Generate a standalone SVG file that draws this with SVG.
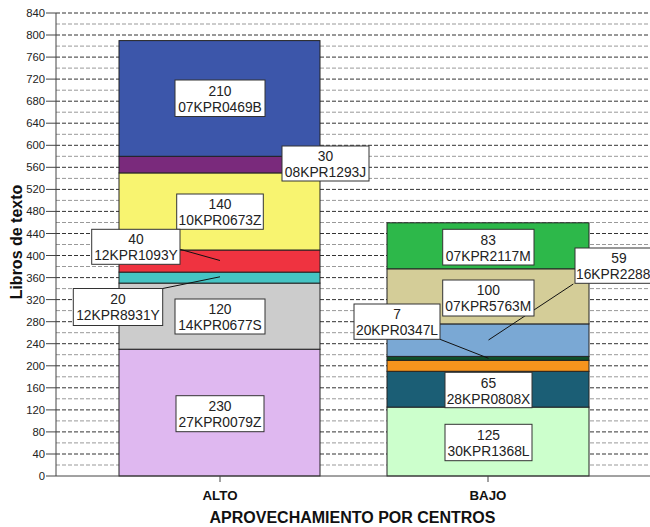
<svg xmlns="http://www.w3.org/2000/svg" width="650" height="527" viewBox="0 0 650 527">
<style>
.maj{stroke:#333;stroke-width:1;stroke-dasharray:4,2}
.min{stroke:#999;stroke-width:1;stroke-dasharray:4,2}
.tick{font-family:"Liberation Sans",Arial,sans-serif;font-size:11.3px;fill:#222;text-anchor:end}
.seg{stroke:#222;stroke-width:1}
.box{fill:#fff;stroke:#333;stroke-width:1}
.lbl{font-family:"Liberation Sans",Arial,sans-serif;font-size:13.8px;fill:#222;text-anchor:middle}
.lead{stroke:#111;stroke-width:1;fill:none}
.cat{font-family:"Liberation Sans",Arial,sans-serif;font-size:13.3px;font-weight:bold;fill:#111;text-anchor:middle}
.ttl{font-family:"Liberation Sans",Arial,sans-serif;font-size:16px;font-weight:bold;fill:#111;text-anchor:middle}
</style>
<rect width="650" height="527" fill="#fff"/>
<g id="grid">
<line class="min" x1="56" x2="650" y1="465.0" y2="465.0"/>
<line class="maj" x1="56" x2="650" y1="454.0" y2="454.0"/>
<line class="min" x1="56" x2="650" y1="442.9" y2="442.9"/>
<line class="maj" x1="56" x2="650" y1="431.9" y2="431.9"/>
<line class="min" x1="56" x2="650" y1="420.9" y2="420.9"/>
<line class="maj" x1="56" x2="650" y1="409.9" y2="409.9"/>
<line class="min" x1="56" x2="650" y1="398.8" y2="398.8"/>
<line class="maj" x1="56" x2="650" y1="387.8" y2="387.8"/>
<line class="min" x1="56" x2="650" y1="376.8" y2="376.8"/>
<line class="maj" x1="56" x2="650" y1="365.8" y2="365.8"/>
<line class="min" x1="56" x2="650" y1="354.7" y2="354.7"/>
<line class="maj" x1="56" x2="650" y1="343.7" y2="343.7"/>
<line class="min" x1="56" x2="650" y1="332.7" y2="332.7"/>
<line class="maj" x1="56" x2="650" y1="321.7" y2="321.7"/>
<line class="min" x1="56" x2="650" y1="310.6" y2="310.6"/>
<line class="maj" x1="56" x2="650" y1="299.6" y2="299.6"/>
<line class="min" x1="56" x2="650" y1="288.6" y2="288.6"/>
<line class="maj" x1="56" x2="650" y1="277.6" y2="277.6"/>
<line class="min" x1="56" x2="650" y1="266.5" y2="266.5"/>
<line class="maj" x1="56" x2="650" y1="255.5" y2="255.5"/>
<line class="min" x1="56" x2="650" y1="244.5" y2="244.5"/>
<line class="maj" x1="56" x2="650" y1="233.5" y2="233.5"/>
<line class="min" x1="56" x2="650" y1="222.5" y2="222.5"/>
<line class="maj" x1="56" x2="650" y1="211.4" y2="211.4"/>
<line class="min" x1="56" x2="650" y1="200.4" y2="200.4"/>
<line class="maj" x1="56" x2="650" y1="189.4" y2="189.4"/>
<line class="min" x1="56" x2="650" y1="178.4" y2="178.4"/>
<line class="maj" x1="56" x2="650" y1="167.3" y2="167.3"/>
<line class="min" x1="56" x2="650" y1="156.3" y2="156.3"/>
<line class="maj" x1="56" x2="650" y1="145.3" y2="145.3"/>
<line class="min" x1="56" x2="650" y1="134.3" y2="134.3"/>
<line class="maj" x1="56" x2="650" y1="123.2" y2="123.2"/>
<line class="min" x1="56" x2="650" y1="112.2" y2="112.2"/>
<line class="maj" x1="56" x2="650" y1="101.2" y2="101.2"/>
<line class="min" x1="56" x2="650" y1="90.2" y2="90.2"/>
<line class="maj" x1="56" x2="650" y1="79.1" y2="79.1"/>
<line class="min" x1="56" x2="650" y1="68.1" y2="68.1"/>
<line class="maj" x1="56" x2="650" y1="57.1" y2="57.1"/>
<line class="min" x1="56" x2="650" y1="46.1" y2="46.1"/>
<line class="maj" x1="56" x2="650" y1="35.0" y2="35.0"/>
<line class="min" x1="56" x2="650" y1="24.0" y2="24.0"/>
<line class="maj" x1="56" x2="650" y1="13.0" y2="13.0"/>
</g>
<g id="y-axis">
<line x1="56" y1="13" x2="56" y2="476" stroke="#444" stroke-width="1"/>
<g stroke="#444" stroke-width="1">
<line x1="46" x2="56" y1="476" y2="476"/><line x1="46" x2="56" y1="454.0" y2="454.0"/><line x1="46" x2="56" y1="431.9" y2="431.9"/><line x1="46" x2="56" y1="409.9" y2="409.9"/><line x1="46" x2="56" y1="387.8" y2="387.8"/><line x1="46" x2="56" y1="365.8" y2="365.8"/><line x1="46" x2="56" y1="343.7" y2="343.7"/><line x1="46" x2="56" y1="321.7" y2="321.7"/><line x1="46" x2="56" y1="299.6" y2="299.6"/><line x1="46" x2="56" y1="277.6" y2="277.6"/><line x1="46" x2="56" y1="255.5" y2="255.5"/><line x1="46" x2="56" y1="233.5" y2="233.5"/><line x1="46" x2="56" y1="211.4" y2="211.4"/><line x1="46" x2="56" y1="189.4" y2="189.4"/><line x1="46" x2="56" y1="167.3" y2="167.3"/><line x1="46" x2="56" y1="145.3" y2="145.3"/><line x1="46" x2="56" y1="123.2" y2="123.2"/><line x1="46" x2="56" y1="101.2" y2="101.2"/><line x1="46" x2="56" y1="79.1" y2="79.1"/><line x1="46" x2="56" y1="57.1" y2="57.1"/><line x1="46" x2="56" y1="35.0" y2="35.0"/><line x1="46" x2="56" y1="13.0" y2="13.0"/>
</g>
<text class="tick" x="45" y="480">0</text>
<text class="tick" x="45" y="458">40</text>
<text class="tick" x="45" y="435.9">80</text>
<text class="tick" x="45" y="413.9">120</text>
<text class="tick" x="45" y="391.8">160</text>
<text class="tick" x="45" y="369.8">200</text>
<text class="tick" x="45" y="347.7">240</text>
<text class="tick" x="45" y="325.7">280</text>
<text class="tick" x="45" y="303.6">320</text>
<text class="tick" x="45" y="281.6">360</text>
<text class="tick" x="45" y="259.5">400</text>
<text class="tick" x="45" y="237.5">440</text>
<text class="tick" x="45" y="215.4">480</text>
<text class="tick" x="45" y="193.4">520</text>
<text class="tick" x="45" y="171.3">560</text>
<text class="tick" x="45" y="149.3">600</text>
<text class="tick" x="45" y="127.2">640</text>
<text class="tick" x="45" y="105.2">680</text>
<text class="tick" x="45" y="83.1">720</text>
<text class="tick" x="45" y="61.1">760</text>
<text class="tick" x="45" y="39">800</text>
<text class="tick" x="45" y="17">840</text>
<text class="ttl" transform="translate(21.5,242) rotate(-90)">Libros de texto</text>
</g>
<g id="bar-alto">
<rect class="seg" x="119" y="349.2" width="201" height="126.8" fill="#dfb8f0"/>
<rect class="seg" x="119" y="283.1" width="201" height="66.1" fill="#cccccc"/>
<rect class="seg" x="119" y="272.1" width="201" height="11.0" fill="#45c4c4"/>
<rect class="seg" x="119" y="250.0" width="201" height="22.1" fill="#ef3340"/>
<rect class="seg" x="119" y="172.9" width="201" height="77.1" fill="#f8f470"/>
<rect class="seg" x="119" y="156.3" width="201" height="16.6" fill="#7a2a7c"/>
<rect class="seg" x="119" y="40.6" width="201" height="115.7" fill="#3c56aa"/>
</g>
<g id="bar-bajo">
<rect class="seg" x="387" y="407.1" width="202" height="68.9" fill="#ccffcc"/>
<rect class="seg" x="387" y="371.3" width="202" height="35.8" fill="#1b5e75"/>
<rect class="seg" x="387" y="360.3" width="202" height="11.0" fill="#f7941d"/>
<rect class="seg" x="387" y="356.4" width="202" height="3.9" fill="#0f4f2a"/>
<rect class="seg" x="387" y="323.9" width="202" height="32.5" fill="#7aa8d4"/>
<rect class="seg" x="387" y="268.8" width="202" height="55.1" fill="#d4cd98"/>
<rect class="seg" x="387" y="222.8" width="202" height="46.0" fill="#2db84a"/>
</g>
<g id="x-axis">
<line x1="56" y1="476" x2="650" y2="476" stroke="#444" stroke-width="1"/>
<line x1="220" y1="476" x2="220" y2="482" stroke="#444"/>
<line x1="488" y1="476" x2="488" y2="482" stroke="#444"/>
<text class="cat" x="220" y="500">ALTO</text>
<text class="cat" x="488" y="500">BAJO</text>
<text class="ttl" x="352.5" y="523">APROVECHAMIENTO POR CENTROS</text>
</g>
<g id="connectors">
<line class="lead" x1="180" y1="249.3" x2="220" y2="260.5"/>
<line class="lead" x1="162.7" y1="288.5" x2="220" y2="276.8"/>
<line class="lead" x1="573.3" y1="284" x2="488.5" y2="340"/>
<line class="lead" x1="440" y1="339.3" x2="488.5" y2="358.3"/>
</g>
<g id="lbl-210"><rect class="box" x="175" y="80" width="90" height="36.5"/><text class="lbl" x="220" y="95.5">210</text><text class="lbl" x="220" y="111.5">07KPR0469B</text></g>
<g id="lbl-30"><rect class="box" x="282" y="146" width="87" height="35"/><text class="lbl" x="325.5" y="161">30</text><text class="lbl" x="325.5" y="177">08KPR1293J</text></g>
<g id="lbl-140"><rect class="box" x="176.7" y="194" width="86.6" height="35.3"/><text class="lbl" x="220" y="209">140</text><text class="lbl" x="220" y="225">10KPR0673Z</text></g>
<g id="lbl-40"><rect class="box" x="91.7" y="229.3" width="88.3" height="35"/><text class="lbl" x="136" y="244.3">40</text><text class="lbl" x="136" y="260.3">12KPR1093Y</text></g>
<g id="lbl-20"><rect class="box" x="73.3" y="288.5" width="89.4" height="37"/><text class="lbl" x="118" y="304">20</text><text class="lbl" x="118" y="320">12KPR8931Y</text></g>
<g id="lbl-120"><rect class="box" x="175" y="299" width="90" height="35"/><text class="lbl" x="220" y="314">120</text><text class="lbl" x="220" y="330">14KPR0677S</text></g>
<g id="lbl-230"><rect class="box" x="176" y="395.7" width="88" height="36"/><text class="lbl" x="220" y="411">230</text><text class="lbl" x="220" y="427">27KPR0079Z</text></g>
<g id="lbl-83"><rect class="box" x="442.7" y="229.3" width="91.3" height="35.7"/><text class="lbl" x="488.3" y="244.5">83</text><text class="lbl" x="488.3" y="260.5">07KPR2117M</text></g>
<g id="lbl-59"><rect class="box" x="575" y="248" width="92" height="35.3"/><text class="lbl" x="619" y="263">59</text><text class="lbl" x="576" y="279" style="text-anchor:start">16KPR2288</text></g>
<g id="lbl-100"><rect class="box" x="442.7" y="280" width="91.3" height="36"/><text class="lbl" x="488.3" y="295.2">100</text><text class="lbl" x="488.3" y="311.2">07KPR5763M</text></g>
<g id="lbl-7"><rect class="box" x="354" y="304" width="86" height="35.3"/><text class="lbl" x="397" y="319">7</text><text class="lbl" x="397" y="335">20KPR0347L</text></g>
<g id="lbl-65"><rect class="box" x="445" y="372.3" width="87" height="35.4"/><text class="lbl" x="488.5" y="387.5">65</text><text class="lbl" x="488.5" y="403.5">28KPR0808X</text></g>
<g id="lbl-125"><rect class="box" x="445" y="424.3" width="87" height="36.4"/><text class="lbl" x="488.5" y="439.8">125</text><text class="lbl" x="488.5" y="455.8">30KPR1368L</text></g>
</svg>
